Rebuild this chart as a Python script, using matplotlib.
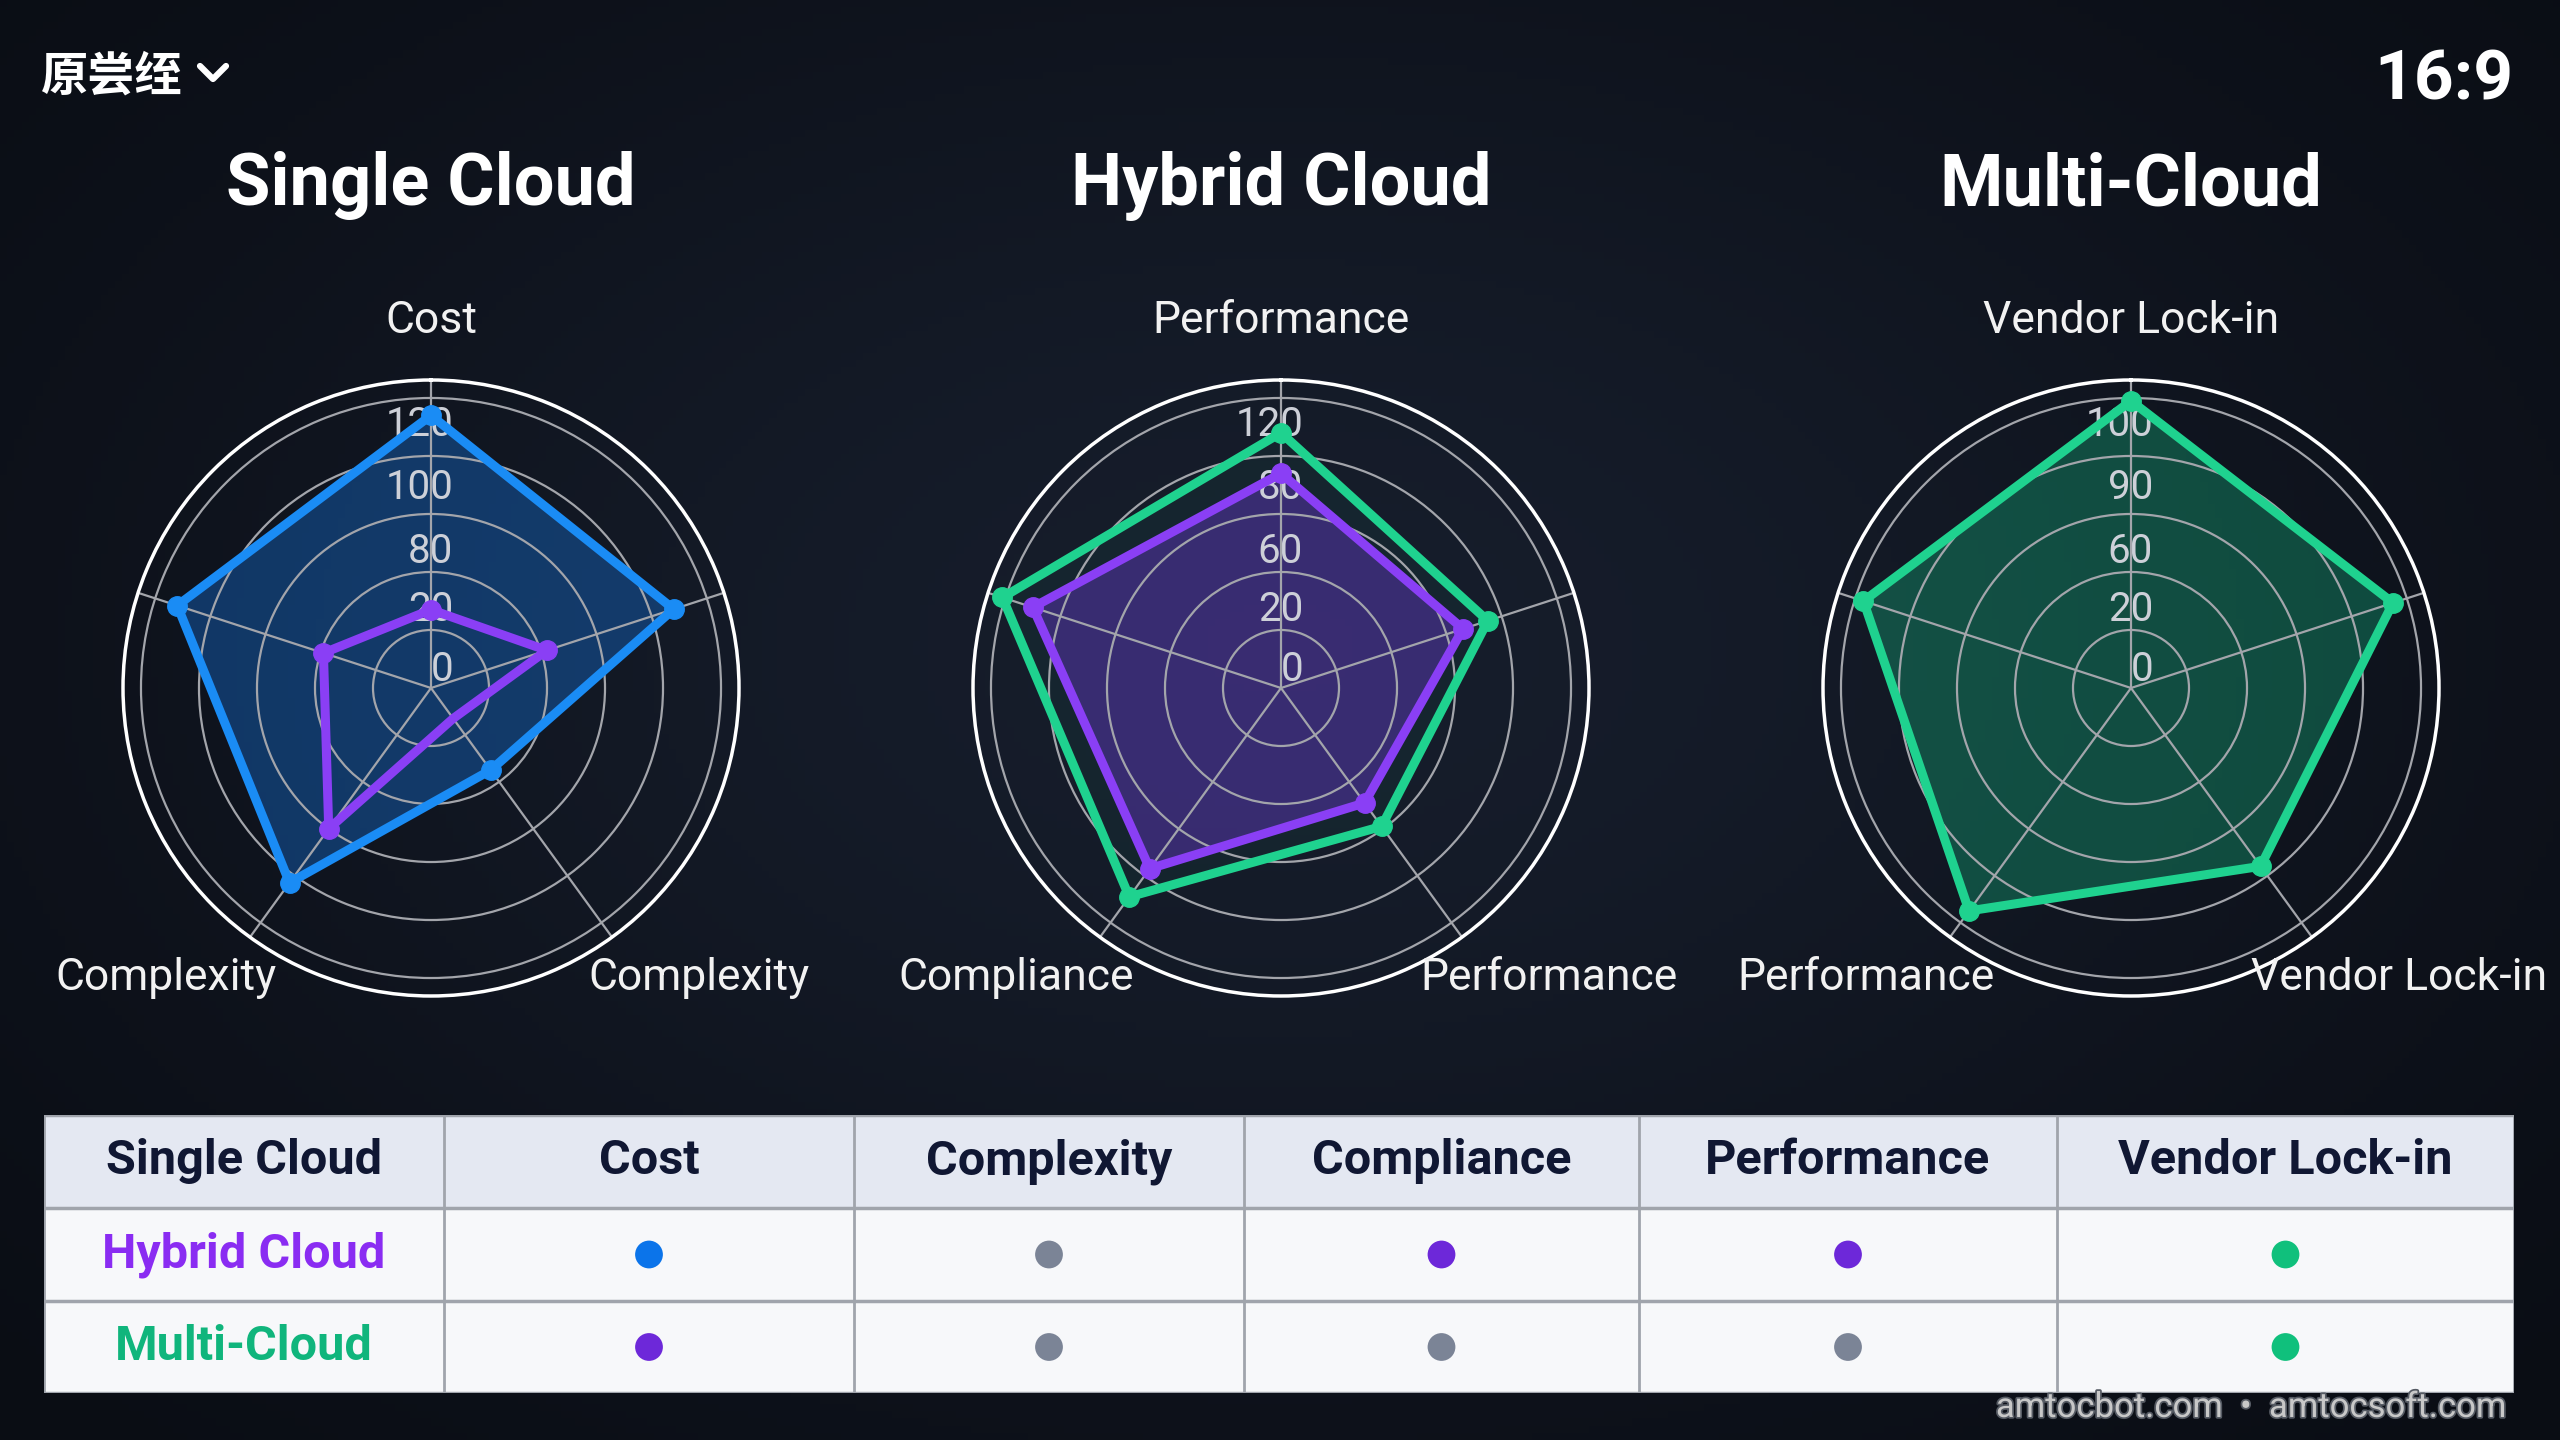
import numpy as np
import matplotlib.pyplot as plt
from matplotlib.lines import Line2D
from matplotlib.patches import Rectangle
from matplotlib import transforms
import matplotlib.patheffects as pe

plt.rcParams['font.family'] = ['Roboto', 'DejaVu Sans']

W, H = 2560, 1440

# %% data
chart_titles = ["Single Cloud", "Hybrid Cloud", "Multi-Cloud"]
# visible axis labels: top, bottom-left, bottom-right
top_labels = ["Cost", "Performance", "Vendor Lock-in"]
bl_labels = ["Complexity", "Compliance", "Performance"]
br_labels = ["Complexity", "Performance", "Vendor Lock-in"]
# radial tick labels as printed (inner to outer)
tick_text = [["0", "20", "80", "100", "120"],
             ["0", "20", "60", "80", "120"],
             ["0", "20", "60", "90", "100"]]

# values on the 5 spokes, clockwise from the top
single_blue = [94, 88, 35, 83, 92]
single_purple = [27, 42, 13, 60, 39]
hybrid_green = [88, 75, 59, 89, 101]
hybrid_purple = [74, 66, 49, 77, 90]
multi_green = [99, 95, 76, 95, 97]

table_cols = ["Single Cloud", "Cost", "Complexity", "Compliance", "Performance", "Vendor Lock-in"]
table_rows = ["Hybrid Cloud", "Multi-Cloud"]
hybrid_marks = ["single", "neutral", "hybrid", "hybrid", "multi"]
multi_marks = ["hybrid", "neutral", "neutral", "neutral", "multi"]

# %% styles
BLUE = "#1a8cf5"
PURPLE = "#8a3ff5"
GREEN = "#1fd28f"
BG = "#0e131d"
mark_colors = {"single": "#0b74ea", "hybrid": "#6d28d9", "multi": "#10c07c", "neutral": "#7b8496"}

# (values, line colour, fill colour, fill alpha, spokes with a marker)
series = [
    [(single_blue, BLUE, "#1565c0", 0.45, [0, 1, 2, 3, 4]),
     (single_purple, PURPLE, PURPLE, 0.0, [0, 1, 3, 4])],
    [(hybrid_green, GREEN, GREEN, 0.05, [0, 1, 2, 3, 4]),
     (hybrid_purple, PURPLE, "#7c3aed", 0.35, [0, 1, 2, 3, 4])],
    [(multi_green, GREEN, "#14c487", 0.32, [0, 1, 2, 3, 4])],
]

centers_x = [431, 1281, 2131]
center_y = 688
R_OUT = 308  # px radius of outer circle
RMAX = 106.2


def fx(x):
    return x / W


def fy(y):
    return 1 - y / H


fig = plt.figure(figsize=(25.6, 14.4), dpi=100, facecolor=BG)

# soft background glow
bg = fig.add_axes([0, 0, 1, 1])
yy, xx = np.mgrid[0:1:200j, 0:1:356j]
glow = np.exp(-((xx - 0.5) ** 2 / 0.25 + (yy - 0.45) ** 2 / 0.3))
bg.imshow(glow, cmap=plt.matplotlib.colors.LinearSegmentedColormap.from_list("g", ["#0a0d14", "#161d2b"]),
          aspect="auto", extent=[0, 1, 0, 1])
bg.axis("off")

n = 5
angles = np.linspace(0, 2 * np.pi, n, endpoint=False)

for i, cx in enumerate(centers_x):
    ax = fig.add_axes([fx(cx - R_OUT), fy(center_y + R_OUT), 2 * R_OUT / W, 2 * R_OUT / H], polar=True)
    ax.set_facecolor("none")
    ax.set_theta_offset(np.pi / 2)
    ax.set_theta_direction(-1)
    ax.set_ylim(0, RMAX)
    ax.set_yticks([20, 40, 60, 80, 100])
    ax.set_yticklabels([])
    ax.set_xticks(angles)
    ax.set_xticklabels([])
    ax.grid(True, color="#a3a5ab", lw=1.6)
    ax.spines["polar"].set_color("white")
    ax.spines["polar"].set_linewidth(2.5)
    ax.tick_params(length=0)

    for vals, lc, fc, fa, marks in series[i]:
        v = np.concatenate([vals, vals[:1]])
        a = np.concatenate([angles, angles[:1]])
        if fa > 0:
            ax.fill(a, v, color=fc, alpha=fa, lw=0)
        ax.plot(a, v, color=lc, lw=6.5, marker="o", ms=14, markevery=marks, solid_joinstyle="round")

    # radial tick labels sit right-aligned just right of the top spoke
    off = transforms.offset_copy(ax.transData, fig=fig, x=22, y=0, units="dots")
    for txt, r in zip(tick_text[i], [6.5, 27, 47, 69, 91]):
        ax.text(0, r, txt, transform=off, ha="right", va="center",
                fontsize=29, color="#cdd0d8", zorder=1)

    fig.text(fx(cx), fy(205), chart_titles[i], ha="center", va="baseline",
             fontsize=52, fontweight="bold", color="white")
    fig.text(fx(cx), fy(333), top_labels[i], ha="center", va="baseline", fontsize=32, color="#f2f2f2")
    fig.text(fx(cx - 265), fy(990), bl_labels[i], ha="center", va="baseline", fontsize=32, color="#f2f2f2")
    fig.text(fx(cx + 268), fy(990), br_labels[i], ha="center", va="baseline", fontsize=32, color="#f2f2f2")

# header bits
fig.text(fx(41), fy(77), "原尝绖", ha="left", va="center", fontsize=34, fontweight="bold",
         color="white", family=["Noto Sans CJK SC", "DejaVu Sans"])
fig.add_artist(Line2D([fx(200), fx(213), fx(226)], [fy(66), fy(79), fy(66)], lw=4.5,
                      color="white", solid_capstyle="round", transform=fig.transFigure))
fig.text(fx(2513), fy(99), "16:9", ha="right", va="baseline", fontsize=50, fontweight="bold", color="white")

# %% table
col_edges = [44, 444, 854, 1244, 1639, 2057, 2514]
row_edges = [1115, 1208, 1301, 1393]
tx = fig.add_axes([fx(44), fy(1393), (2514 - 44) / W, (1393 - 1115) / H])
tx.set_xlim(44, 2514)
tx.set_ylim(1393, 1115)
tx.axis("off")
tx.add_patch(Rectangle((44, 1115), 2470, 93, color="#e4e8f2", zorder=0))
tx.add_patch(Rectangle((44, 1208), 2470, 185, color="#f7f8fa", zorder=0))
for x in col_edges:
    tx.plot([x, x], [1115, 1393], color="#a0a4ac", lw=2, zorder=1)
for y in row_edges:
    tx.plot([44, 2514], [y, y], color="#a0a4ac", lw=2.5, zorder=1)

col_mid = [(a + b) / 2 for a, b in zip(col_edges[:-1], col_edges[1:])]
row_mid = [(a + b) / 2 for a, b in zip(row_edges[:-1], row_edges[1:])]
for xm, label in zip(col_mid, table_cols):
    tx.text(xm, row_mid[0], label, ha="center", va="center", fontsize=35, fontweight="bold", color="#101733")
tx.text(col_mid[0], row_mid[1], table_rows[0], ha="center", va="center", fontsize=35,
        fontweight="bold", color="#8a2cf2")
tx.text(col_mid[0], row_mid[2], table_rows[1], ha="center", va="center", fontsize=35,
        fontweight="bold", color="#10b57c")
for r, marks in zip(row_mid[1:], [hybrid_marks, multi_marks]):
    tx.scatter(col_mid[1:], [r] * len(marks), s=400, c=[mark_colors[m] for m in marks], zorder=3, lw=0)

wm = fig.text(fx(2507), fy(1417), "amtocbot.com  •  amtocsoft.com", ha="right", va="baseline",
              fontsize=25, color="#c8c8c8", zorder=10)
wm.set_path_effects([pe.withStroke(linewidth=2.5, foreground="#555a63")])

fig.savefig("out.png", dpi=100, facecolor=BG)
